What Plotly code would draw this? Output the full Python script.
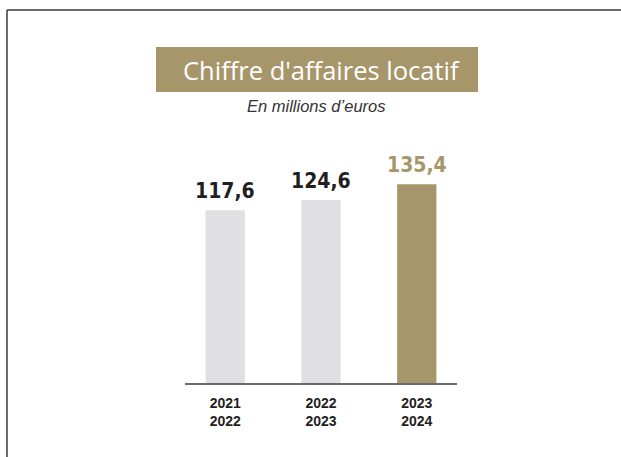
import plotly.graph_objects as go

# data
periods = ["2021<br>2022", "2022<br>2023", "2023<br>2024"]
revenue = [117.6, 124.6, 135.4]
value_labels = ["117,6", "124,6", "135,4"]
bar_colors = ["#e0e0e2", "#e0e0e2", "#a6966a"]
label_colors = ["#231f20", "#231f20", "#a6966a"]

W, H = 621, 457
# plot area in pixels
L, R, T, B = 185, 457, 148, 383


def px(x):
    return (x - L) / (R - L)


def py(y):
    return (B - y) / (B - T)


fig = go.Figure()
fig.add_trace(go.Bar(x=periods, y=revenue, marker=dict(color=bar_colors, line=dict(width=0)),
                     width=0.41, hoverinfo="skip"))

# value labels above bars
for p, v, t, c in zip(periods, revenue, value_labels, label_colors):
    fig.add_annotation(x=p, y=v, text="<b>" + t + "</b>", showarrow=False, yanchor="bottom",
                       yshift=5, font=dict(family="DejaVu Sans Condensed", size=21, color=c))

# frame lines (top and left)
fig.add_shape(type="line", xref="paper", yref="paper", x0=px(7), x1=px(W + 5), y0=py(10), y1=py(10),
              line=dict(color="#3a3a3a", width=1.5))
fig.add_shape(type="line", xref="paper", yref="paper", x0=px(7), x1=px(7), y0=py(10), y1=py(H + 5),
              line=dict(color="#3a3a3a", width=1.5))

# title box
fig.add_shape(type="rect", xref="paper", yref="paper", x0=px(156), x1=px(478), y0=py(47), y1=py(92),
              fillcolor="#a6966a", line=dict(width=0), layer="below")
fig.add_annotation(xref="paper", yref="paper", x=px(321.5), y=py(70), text="Chiffre d'affaires locatif",
                   showarrow=False, xanchor="center", yanchor="middle",
                   font=dict(family="Open Sans", size=25.5, color="white"))
fig.add_annotation(xref="paper", yref="paper", x=px(316), y=py(106), text="<i>En millions d’euros</i>",
                   showarrow=False, xanchor="center", yanchor="middle",
                   font=dict(family="Liberation Sans", size=16.5, color="#333333"))

fig.update_layout(
    width=W, height=H,
    margin=dict(l=L, r=W - R, t=T, b=H - B),
    paper_bgcolor="white", plot_bgcolor="white",
    showlegend=False,
    xaxis=dict(range=[-0.42, 2.42], showline=True, linecolor="#6b6b6b", linewidth=2,
               showgrid=False, zeroline=False, ticks="", ticklabelstandoff=6,
               tickfont=dict(family="Liberation Sans", size=14, color="#1f1f1f", weight="bold")),
    yaxis=dict(range=[0, 160], visible=False, showgrid=False, zeroline=False),
)

# drop the default page margin so the figure sits at the window corner
fig.write_html("out.html", config={"displayModeBar": False},
               post_script="document.body.style.margin='0';")
